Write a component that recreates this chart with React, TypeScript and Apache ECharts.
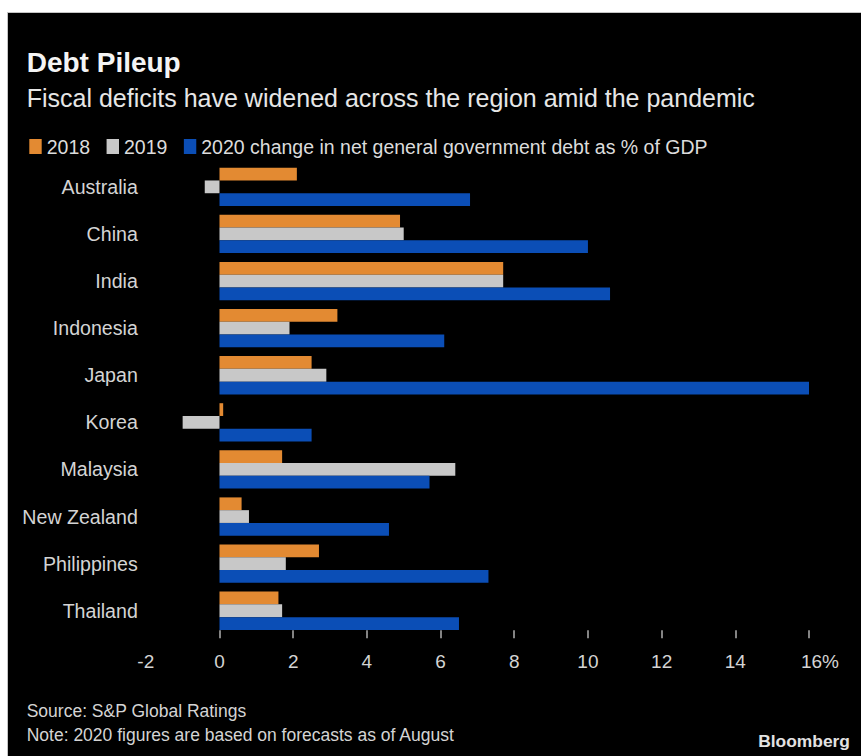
import React, { useEffect, useRef } from "react";
import * as echarts from "echarts";

const countries = [
  "Australia",
  "China",
  "India",
  "Indonesia",
  "Japan",
  "Korea",
  "Malaysia",
  "New Zealand",
  "Philippines",
  "Thailand",
];
const seriesNames = [
  "2018",
  "2019",
  "2020 change in net general government debt as % of GDP",
];
const values2018 = [2.1, 4.9, 7.7, 3.2, 2.5, 0.1, 1.7, 0.6, 2.7, 1.6];
const values2019 = [-0.4, 5.0, 7.7, 1.9, 2.9, -1.0, 6.4, 0.8, 1.8, 1.7];
const values2020 = [6.8, 10.0, 10.6, 6.1, 16.0, 2.5, 5.7, 4.6, 7.3, 6.5];
const tickValues = [0, 2, 4, 6, 8, 10, 12, 14, 16];
const colors = ["#E38A32", "#C8C8C8", "#0B4EB6"];

const FONT = "'Liberation Sans', Arial, sans-serif";

export default function App() {
  const ref = useRef<HTMLDivElement>(null);

  useEffect(() => {
    if (!ref.current) return;
    const chart = echarts.init(ref.current, null, {
      renderer: "svg",
      width: 861,
      height: 756,
    });
    const data = [values2018, values2019, values2020];
    const option: any = {
      animation: false,
      backgroundColor: "#000000",
      textStyle: { fontFamily: FONT },
      graphic: [
        { type: "rect", shape: { x: 0, y: 0, width: 861, height: 12 }, style: { fill: "#ffffff" }, silent: true },
        { type: "rect", shape: { x: 0, y: 0, width: 7, height: 756 }, style: { fill: "#ffffff" }, silent: true },
        { type: "line", shape: { x1: 7, y1: 12.5, x2: 861, y2: 12.5 }, style: { stroke: "#c4c4c4", lineWidth: 1 }, silent: true },
        { type: "line", shape: { x1: 7.5, y1: 12, x2: 7.5, y2: 756 }, style: { stroke: "#c4c4c4", lineWidth: 1 }, silent: true },
        {
          type: "text",
          x: 26.7,
          y: 62.8,
          style: {
            text: "Debt Pileup",
            fontFamily: FONT,
            fontWeight: "bold",
            fontSize: 28,
            fill: "#f4f4f4",
            verticalAlign: "middle",
          },
        },
        {
          type: "text",
          x: 26.7,
          y: 97.7,
          style: {
            text: "Fiscal deficits have widened across the region amid the pandemic",
            fontFamily: FONT,
            fontSize: 25,
            fill: "#e6e6e6",
            verticalAlign: "middle",
          },
        },
        {
          type: "text",
          x: 26.7,
          y: 711,
          style: {
            text: "Source: S&P Global Ratings",
            fontFamily: FONT,
            fontSize: 17.5,
            fill: "#d4d4d4",
            verticalAlign: "middle",
          },
        },
        {
          type: "text",
          x: 26.7,
          y: 734.7,
          style: {
            text: "Note: 2020 figures are based on forecasts as of August",
            fontFamily: FONT,
            fontSize: 17.5,
            fill: "#d4d4d4",
            verticalAlign: "middle",
          },
        },
        {
          type: "text",
          x: 850,
          y: 741.3,
          style: {
            text: "Bloomberg",
            fontFamily: FONT,
            fontWeight: "bold",
            fontSize: 17.4,
            fill: "#e2e2e2",
            align: "right",
            verticalAlign: "middle",
          },
        },
      ],
      legend: {
        left: 29.3,
        top: 136.5,
        padding: 0,
        itemWidth: 12.4,
        itemHeight: 15,
        itemGap: 16.5,
        icon: "rect",
        data: seriesNames,
        textStyle: {
          color: "#dcdcdc",
          fontSize: 19.5,
          fontFamily: FONT,
          lineHeight: 20,
        },
      },
      grid: {
        left: 145.8,
        right: 52,
        top: 163.3,
        bottom: 121.7,
        containLabel: false,
        outerBoundsMode: "none",
      },
      xAxis: {
        type: "value",
        min: -2,
        max: 16,
        interval: 2,
        offset: -4,
        splitLine: { show: false },
        axisLine: { show: false },
        axisTick: {
          show: true,
          length: 8,
          customValues: tickValues,
          lineStyle: { color: "#b0b0b0", width: 1.5 },
        },
        axisLabel: {
          color: "#d4d4d4",
          fontSize: 19,
          fontFamily: FONT,
          lineHeight: 19,
          margin: 22,
          formatter: (v: number) => (v === 16 ? "{n|16%}" : String(v)),
          rich: {
            n: {
              color: "#d4d4d4",
              fontSize: 19,
              fontFamily: FONT,
              lineHeight: 19,
              padding: [0, 0, 0, 22],
            },
          },
        },
      },
      yAxis: {
        type: "category",
        inverse: true,
        data: countries,
        axisLine: { show: false },
        axisTick: { show: false },
        splitLine: { show: false },
        axisLabel: {
          color: "#d4d4d4",
          fontSize: 19.6,
          fontFamily: FONT,
          margin: 8,
          padding: [0, 0, 3, 0],
        },
      },
      series: seriesNames.map((name, i) => ({
        name,
        type: "bar",
        data: data[i],
        barGap: "0%",
        barCategoryGap: "18.7%",
        itemStyle: { color: colors[i] },
        emphasis: { disabled: true },
      })),
    };
    chart.setOption(option);
    return () => chart.dispose();
  }, []);

  return (
    <div
      ref={ref}
      style={{ position: "absolute", left: 0, top: 0, width: 861, height: 756 }}
    />
  );
}
